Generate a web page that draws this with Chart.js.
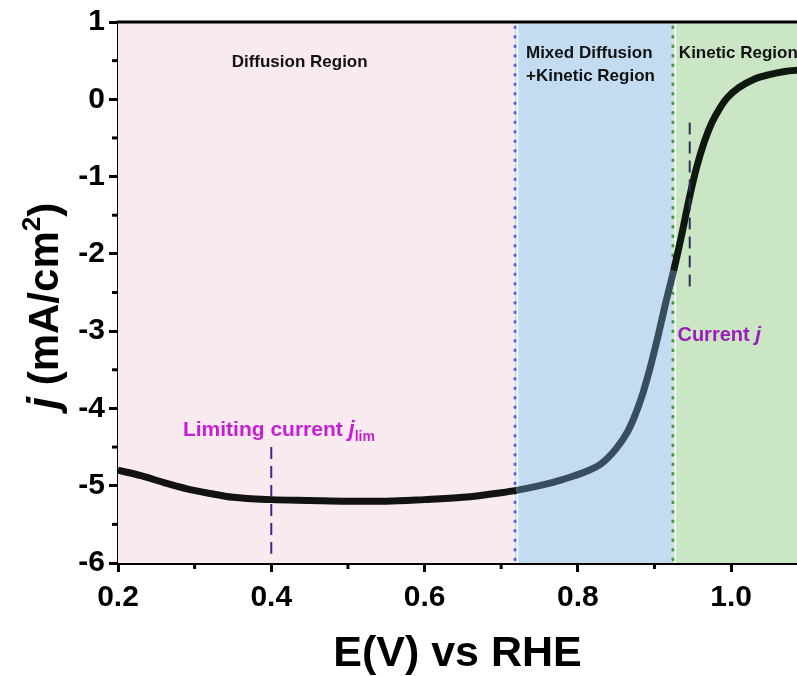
<!DOCTYPE html>
<html>
<head>
<meta charset="utf-8">
<script src="https://cdn.jsdelivr.net/npm/chart.js@4.4.0/dist/chart.umd.min.js"></script>
<style>
  html, body { margin: 0; padding: 0; background: #fff; }
  canvas { display: block; }
</style>
</head>
<body>
<canvas id="chartLSV" width="797" height="676"></canvas>
<script>
// Datos (LSV, E vs RHE)
const potencial = [0.20, 0.23, 0.26, 0.29, 0.32, 0.35, 0.40, 0.45, 0.50, 0.55, 0.60, 0.65, 0.70, 0.72,
    0.75, 0.78, 0.81, 0.83, 0.85, 0.865, 0.875, 0.885, 0.895, 0.905, 0.915, 0.925, 0.935, 0.945,
    0.955, 0.965, 0.975, 0.985, 0.995, 1.01, 1.03, 1.05, 1.07, 1.09];
const corriente = [-4.80, -4.87, -4.96, -5.04, -5.10, -5.15, -5.18, -5.19, -5.20, -5.20, -5.18, -5.15, -5.09, -5.06,
    -5.00, -4.92, -4.82, -4.72, -4.52, -4.30, -4.08, -3.80, -3.45, -3.05, -2.62, -2.22, -1.78, -1.30,
    -0.88, -0.55, -0.30, -0.12, 0.02, 0.15, 0.26, 0.32, 0.36, 0.38];

// Limites de las regiones (difusion, mixta, cinetica)
const limitesRegion = [0.2, 0.718, 0.924, 1.086];
const nombresRegion = ['Diffusion Region', 'Mixed Diffusion\n+Kinetic Region', 'Kinetic Region'];

// Ejes
const ticksX = [0.2, 0.3, 0.4, 0.5, 0.6, 0.7, 0.8, 0.9, 1.0];
const ticksY = [-6, -5.5, -5, -4.5, -4, -3.5, -3, -2.5, -2, -1.5, -1, -0.5, 0, 0.5, 1];

// Lineas discontinuas de las anotaciones
const lineaJlimX = [0.4, 0.4];
const lineaJlimY = [-4.5, -5.88];
const lineaJX = [0.946, 0.946];
const lineaJY = [-0.3, -2.5];

const colorRegion = ['#f8eaef', '#c3dcf2', '#cbe6c4'];
const colorDivisor = ['#4f6ae0', '#3c9a3c'];
const fuente = '"Liberation Sans", Arial, sans-serif';

const esMayor = (v, paso) => Math.abs(v / paso - Math.round(v / paso)) < 1e-6;

function dibujarTexto(ctx, partes, x, y, align) {
    // partes: [{t, font, dy}]
    let ancho = 0;
    partes.forEach(p => { ctx.font = p.font; ancho += ctx.measureText(p.t).width; });
    let cx = align === 'center' ? x - ancho / 2 : x;
    ctx.textAlign = 'left';
    partes.forEach(p => {
        ctx.font = p.font;
        ctx.fillText(p.t, cx, y + (p.dy || 0));
        cx += ctx.measureText(p.t).width;
    });
}

const pluginFondo = {
    id: 'fondo',
    beforeDatasetsDraw(chart) {
        const { ctx, chartArea, scales } = chart;
        const x = scales.x;
        ctx.save();
        for (let i = 0; i < colorRegion.length; i++) {
            const x0 = Math.max(x.getPixelForValue(limitesRegion[i]), chartArea.left);
            const x1 = Math.min(x.getPixelForValue(limitesRegion[i + 1]), chartArea.right);
            ctx.fillStyle = colorRegion[i];
            ctx.fillRect(x0, chartArea.top, x1 - x0, chartArea.bottom - chartArea.top);
        }
        // divisores punteados
        for (let i = 1; i <= 2; i++) {
            const px = x.getPixelForValue(limitesRegion[i]);
            ctx.strokeStyle = '#ffffff';
            ctx.lineWidth = 1.5;
            ctx.beginPath();
            ctx.moveTo(px + 2.5, chartArea.top);
            ctx.lineTo(px + 2.5, chartArea.bottom);
            ctx.stroke();
            ctx.strokeStyle = colorDivisor[i - 1];
            ctx.lineWidth = 3;
            ctx.lineCap = 'round';
            ctx.setLineDash([0.5, 9]);
            ctx.beginPath();
            ctx.moveTo(px, chartArea.top + 5);
            ctx.lineTo(px, chartArea.bottom);
            ctx.stroke();
            ctx.setLineDash([]);
            ctx.lineCap = 'butt';
        }
        // textos de las regiones
        ctx.fillStyle = '#111';
        ctx.textBaseline = 'middle';
        ctx.font = 'bold 17px ' + fuente;
        ctx.textAlign = 'center';
        ctx.fillText(nombresRegion[0], x.getPixelForValue(0.437), chartArea.top + 40);
        const lineas = nombresRegion[1].split('\n');
        ctx.textAlign = 'left';
        ctx.fillText(lineas[0], x.getPixelForValue(limitesRegion[1]) + 11, chartArea.top + 31);
        ctx.fillText(lineas[1], x.getPixelForValue(limitesRegion[1]) + 11, chartArea.top + 54);
        ctx.fillText(nombresRegion[2], x.getPixelForValue(limitesRegion[2]) + 6, chartArea.top + 31);
        ctx.restore();
    },
    afterDraw(chart) {
        const { ctx, chartArea, scales } = chart;
        ctx.save();
        // borde superior
        ctx.strokeStyle = '#000';
        ctx.lineWidth = 3;
        ctx.beginPath();
        ctx.moveTo(chartArea.left - 1.5, chartArea.top);
        ctx.lineTo(chartArea.right, chartArea.top);
        ctx.stroke();

        // ticks menores
        ctx.lineWidth = 3;
        scales.x.ticks.forEach(t => {
            if (esMayor(t.value, 0.2)) return;
            const px = scales.x.getPixelForValue(t.value);
            ctx.beginPath();
            ctx.moveTo(px, chartArea.bottom);
            ctx.lineTo(px, chartArea.bottom + 6);
            ctx.stroke();
        });
        scales.y.ticks.forEach(t => {
            if (esMayor(t.value, 1)) return;
            const py = scales.y.getPixelForValue(t.value);
            ctx.beginPath();
            ctx.moveTo(chartArea.left, py);
            ctx.lineTo(chartArea.left - 6, py);
            ctx.stroke();
        });

        // titulo eje Y
        ctx.fillStyle = '#000';
        ctx.textBaseline = 'alphabetic';
        ctx.translate(58, 306);
        ctx.rotate(-Math.PI / 2);
        dibujarTexto(ctx, [
            { t: 'j', font: 'italic bold 44px ' + fuente },
            { t: ' (mA/cm', font: 'bold 42px ' + fuente },
            { t: '2', font: 'bold 26px ' + fuente, dy: -18 },
            { t: ')', font: 'bold 42px ' + fuente }
        ], 0, 0, 'center');
        ctx.restore();

        // anotaciones
        ctx.save();
        ctx.textBaseline = 'alphabetic';
        ctx.fillStyle = '#c51fd4';
        dibujarTexto(ctx, [
            { t: 'Limiting current ', font: 'bold 21px ' + fuente },
            { t: 'j', font: 'italic bold 22px ' + fuente },
            { t: 'lim', font: 'bold 14px ' + fuente, dy: 5 }
        ], scales.x.getPixelForValue(0.2847), scales.y.getPixelForValue(-4.36), 'left');
        ctx.fillStyle = '#9a1fb8';
        dibujarTexto(ctx, [
            { t: 'Current ', font: 'bold 20px ' + fuente },
            { t: 'j', font: 'italic bold 21px ' + fuente }
        ], scales.x.getPixelForValue(0.930), scales.y.getPixelForValue(-3.13), 'left');
        ctx.restore();
    }
};

const ctx = document.getElementById('chartLSV').getContext('2d');

new Chart(ctx, {
    type: 'line',
    data: {
        datasets: [
            {
                label: 'LSV',
                data: potencial.map((v, i) => ({ x: v, y: corriente[i] })),
                borderColor: '#111',
                borderWidth: 7,
                pointRadius: 0,
                cubicInterpolationMode: 'monotone',
                segment: {
                    borderColor: c => (c.p0.parsed.x >= limitesRegion[1] - 0.002 && c.p1.parsed.x <= limitesRegion[2] + 0.003)
                        ? '#3a4d5f'
                        : (c.p0.parsed.x >= limitesRegion[2] ? '#0e180e' : '#121212')
                },
                order: 1
            },
            {
                label: 'jlim',
                data: lineaJlimX.map((v, i) => ({ x: v, y: lineaJlimY[i] })),
                borderColor: '#3d2a85',
                borderWidth: 2,
                borderDash: [12, 7],
                pointRadius: 0,
                order: 0
            },
            {
                label: 'j',
                data: lineaJX.map((v, i) => ({ x: v, y: lineaJY[i] })),
                borderColor: '#2a3058',
                borderWidth: 2,
                borderDash: [12, 7],
                pointRadius: 0,
                order: 0
            }
        ]
    },
    options: {
        responsive: false,
        animation: false,
        layout: { padding: { top: 22, right: 0, left: 0, bottom: 0 } },
        plugins: {
            legend: { display: false },
            tooltip: { enabled: false }
        },
        scales: {
            x: {
                type: 'linear',
                min: limitesRegion[0],
                max: limitesRegion[3],
                afterBuildTicks: s => { s.ticks = ticksX.map(v => ({ value: v })); },
                afterFit: s => { s.height = 113; },
                ticks: {
                    autoSkip: false,
                    maxRotation: 0,
                    padding: 8,
                    color: '#000',
                    font: { family: fuente, size: 30, weight: 'bold' },
                    callback: v => esMayor(v, 0.2) ? v.toFixed(1) : ''
                },
                grid: {
                    drawOnChartArea: false,
                    drawTicks: true,
                    tickLength: 9,
                    lineWidth: 3,
                    color: c => (c.tick && esMayor(c.tick.value, 0.2)) ? '#000' : 'rgba(0,0,0,0)'
                },
                border: { display: true, color: '#000', width: 3 },
                title: {
                    display: true,
                    text: 'E(V) vs RHE',
                    color: '#000',
                    font: { family: fuente, size: 43, weight: 'bold' },
                    padding: { top: 0, bottom: -4 }
                }
            },
            y: {
                min: -6,
                max: 1,
                afterBuildTicks: s => { s.ticks = ticksY.map(v => ({ value: v })); },
                afterFit: s => { s.width = 118; },
                ticks: {
                    autoSkip: false,
                    padding: 4,
                    color: '#000',
                    font: { family: fuente, size: 30, weight: 'bold' },
                    callback: v => esMayor(v, 1) ? String(v) : ''
                },
                grid: {
                    drawOnChartArea: false,
                    drawTicks: true,
                    tickLength: 9,
                    lineWidth: 3,
                    color: c => (c.tick && esMayor(c.tick.value, 1)) ? '#000' : 'rgba(0,0,0,0)'
                },
                border: { display: true, color: '#000', width: 3 }
            }
        }
    },
    plugins: [pluginFondo]
});
</script>
</body>
</html>
